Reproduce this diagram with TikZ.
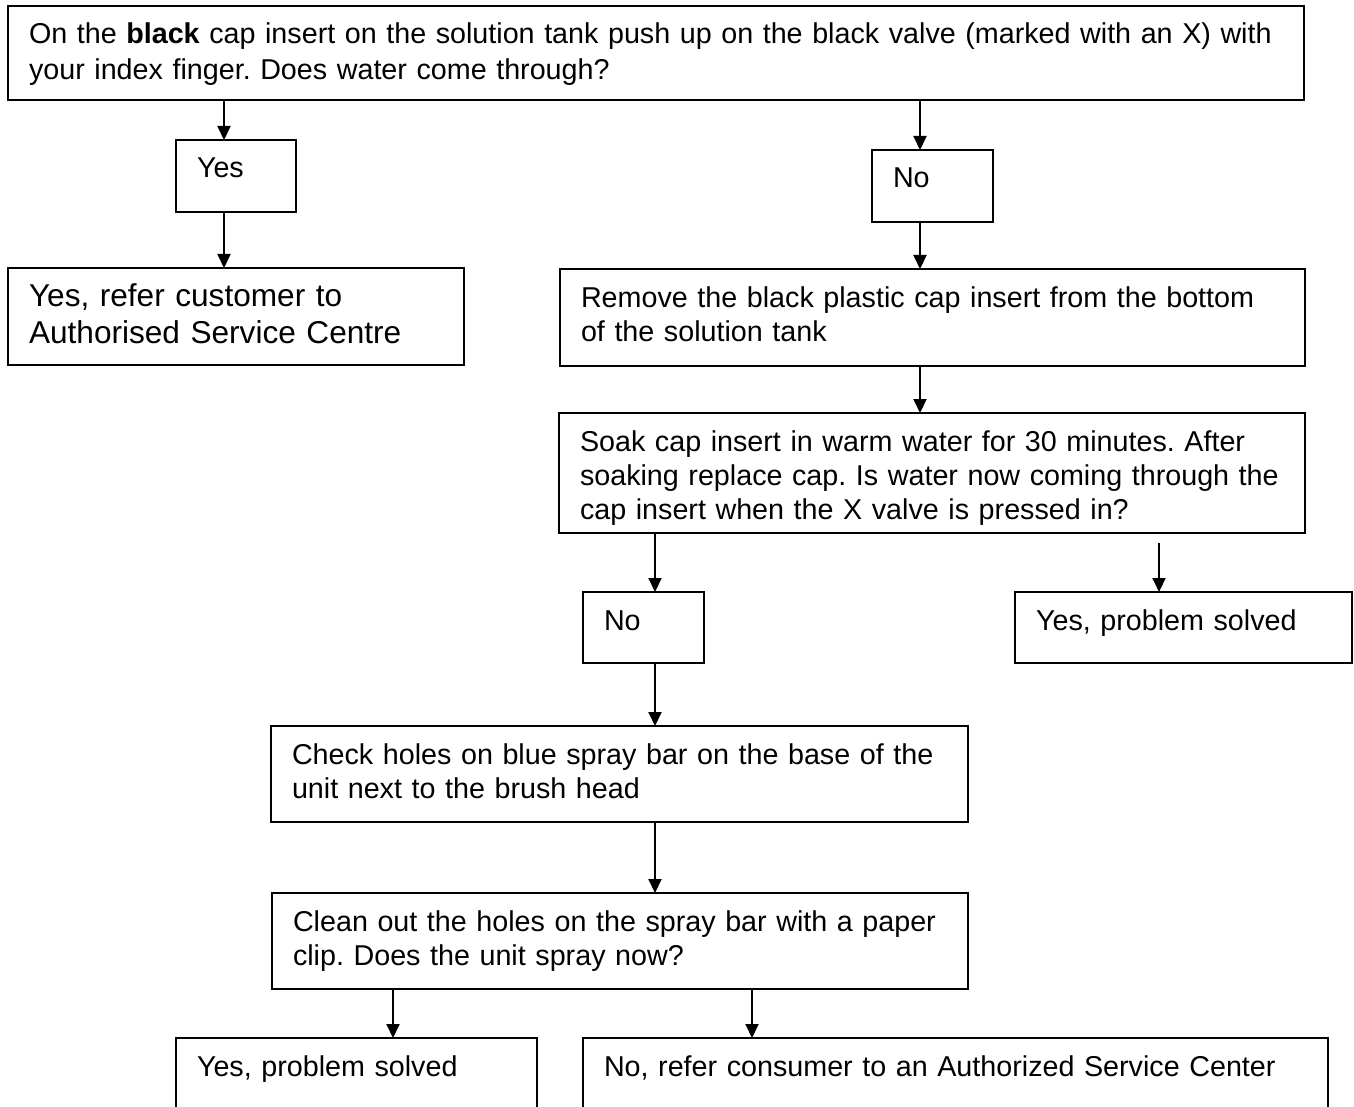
\documentclass[tikz,border=0pt]{standalone}
\usepackage{fontspec}
\setmainfont{Liberation Sans}
\usetikzlibrary{arrows.meta}
\frenchspacing
\tikzset{
  box/.style={draw, line width=2.6pt, anchor=north west, align=left,
    inner xsep=21pt, inner ysep=0pt, outer sep=0pt, text height=38pt,
    font=\fontsize{28.7}{34}\selectfont},
  arr/.style={line width=2pt, -{Triangle[length=14pt,width=13pt]}}
}
\begin{document}
\begin{tikzpicture}[x=1pt,y=-1pt]
\useasboundingbox (0,0) rectangle (1354,1107);
\clip (0,0) rectangle (1354,1107);
% question at the top
\node[box, text width=1254pt, text depth=56pt, font=\fontsize{28.7}{35.5}\selectfont] (top) at (8,6)
  {On the \textbf{black} cap insert on the solution tank push up on the black valve (marked with an X) with\\your index finger. Does water come through?};
% left branch
\node[box, text width=78pt, text depth=34pt] (yesA) at (176,140) {Yes};
\node[box, text width=414pt, text depth=59pt, font=\fontsize{31.6}{37}\selectfont] (refer) at (8,268)
  {Yes, refer customer to\\Authorised Service Centre};
% right branch
\node[box, text width=79pt, text depth=34pt] (noA) at (872,150) {No};
\node[box, text width=703pt, text depth=59pt] (remove) at (560,269)
  {Remove the black plastic cap insert from the bottom\\of the solution tank};
\node[box, text width=704pt, text depth=82pt] (soak) at (559,413)
  {Soak cap insert in warm water for 30 minutes. After\\soaking replace cap. Is water now coming through the\\cap insert when the X valve is pressed in?};
\node[box, text width=79pt, text depth=33pt] (noB) at (583,592) {No};
\node[box, text width=295pt, text depth=33pt] (yesB) at (1015,592) {Yes, problem solved};
\node[box, text width=655pt, text depth=58pt] (check) at (271,726)
  {Check holes on blue spray bar on the base of the\\unit next to the brush head};
\node[box, text width=654pt, text depth=58pt] (clean) at (272,893)
  {Clean out the holes on the spray bar with a paper\\clip. Does the unit spray now?};
\node[box, text width=319pt, text depth=70pt] (yesC) at (176,1038) {Yes, problem solved};
\node[box, text width=703pt, text depth=70pt] (noC) at (583,1038)
  {No, refer consumer to an Authorized Service Center};
% arrows
\foreach \a/\b/\c in {top/yesA/224, yesA/refer/224, top/noA/920, noA/remove/920,
    remove/soak/920, soak/noB/655, noB/check/655, check/clean/655,
    clean/yesC/393, clean/noC/752} {
  \coordinate (col) at (\c,0);
  \draw[arr] (\a.south -| col) -- (\b.north -| col);
}
\coordinate (col) at (1159,0);
\draw[arr, shorten <=10pt] (soak.south -| col) -- (yesB.north -| col);
\end{tikzpicture}
\end{document}
